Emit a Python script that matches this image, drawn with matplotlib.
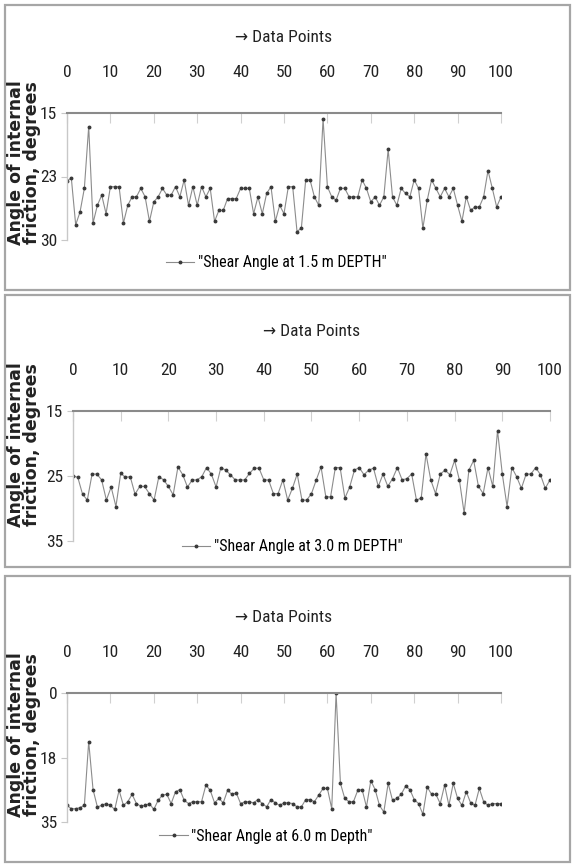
import numpy as np
import matplotlib.pyplot as plt
from matplotlib.patches import Rectangle
from matplotlib.ticker import FuncFormatter

# data (data point index 0..100)
points = np.arange(0, 101)

shear_15 = [23.0, 22.7, 28.2, 26.7, 23.9, 16.6, 28.0, 25.9, 24.7, 26.9,
            23.7, 23.7, 23.7, 28.0, 25.9, 24.9, 24.9, 23.9, 24.9, 27.8,
            25.5, 24.9, 23.9, 24.7, 24.7, 23.7, 24.9, 22.9, 25.9, 23.7,
            25.9, 23.7, 24.9, 23.9, 27.8, 26.5, 26.5, 25.1, 25.1, 25.1,
            23.9, 23.9, 23.9, 26.9, 24.9, 26.9, 24.5, 23.7, 27.8, 25.9,
            26.9, 23.7, 23.7, 29.0, 28.6, 22.9, 22.9, 24.9, 25.9, 15.7,
            23.7, 24.9, 25.3, 23.9, 23.9, 24.9, 24.9, 24.9, 22.9, 23.9,
            25.5, 24.9, 25.9, 24.9, 19.3, 24.9, 25.9, 23.9, 24.5, 24.9,
            22.9, 23.9, 28.6, 25.3, 22.9, 23.9, 24.9, 23.9, 24.9, 23.9,
            25.9, 27.8, 24.9, 26.5, 26.1, 26.1, 24.9, 21.8, 23.9, 26.1,
            24.9]

shear_30 = [25.0, 25.2, 27.8, 28.7, 24.7, 24.7, 25.6, 28.7, 26.7, 29.7,
            24.6, 25.2, 25.1, 27.8, 26.6, 26.6, 27.7, 28.7, 25.1, 25.6,
            26.6, 27.9, 23.6, 24.8, 26.7, 25.6, 25.6, 25.1, 23.7, 24.7,
            26.7, 23.7, 24.1, 24.8, 25.6, 25.6, 25.6, 24.6, 23.8, 23.8,
            25.6, 25.6, 27.7, 27.7, 25.6, 28.7, 26.9, 24.7, 28.7, 28.7,
            27.7, 25.6, 23.6, 28.2, 28.2, 23.7, 23.7, 28.4, 26.7, 24.1,
            23.7, 24.8, 24.1, 23.8, 26.6, 24.7, 26.6, 25.4, 23.7, 25.6,
            25.4, 24.7, 28.7, 28.4, 21.6, 25.6, 27.7, 24.7, 24.1, 24.8,
            22.6, 25.6, 30.7, 24.1, 22.6, 26.6, 27.7, 23.7, 26.6, 18.0,
            24.7, 29.7, 23.7, 25.1, 26.9, 24.7, 24.7, 23.7, 24.8, 26.9,
            25.6]

shear_60 = [30.5, 31.4, 31.4, 31.1, 30.5, 13.2, 26.2, 30.9, 30.5, 30.0,
            30.5, 31.6, 26.4, 30.5, 29.5, 27.5, 30.0, 30.7, 30.5, 30.0,
            31.6, 29.1, 27.7, 27.5, 30.0, 26.8, 26.2, 29.1, 30.0, 29.5,
            29.5, 29.5, 25.0, 26.4, 29.8, 28.6, 29.8, 26.4, 27.5, 27.1,
            30.0, 29.5, 29.5, 29.8, 28.9, 30.0, 30.9, 28.9, 29.8, 30.5,
            29.8, 29.8, 30.0, 30.9, 30.9, 28.9, 28.9, 29.5, 27.7, 25.9,
            25.9, 31.4, 0.0, 24.5, 28.6, 29.5, 29.5, 26.4, 26.2, 30.9,
            23.8, 26.2, 30.5, 32.3, 24.5, 29.1, 28.6, 27.5, 25.3, 26.2,
            28.9, 30.0, 32.9, 25.5, 27.5, 27.5, 30.0, 25.0, 30.5, 24.5,
            28.6, 30.5, 26.8, 29.8, 30.5, 25.9, 29.5, 30.5, 30.0, 30.0,
            30.0]

series_names = ['"Shear Angle at 1.5 m DEPTH"',
                '"Shear Angle at 3.0 m DEPTH"',
                '"Shear Angle at 6.0 m Depth"']
y_limits = [(15, 30), (15, 35), (0, 35)]
y_ticks = [[15, 22.5, 30], [15, 25, 35], [0, 17.5, 35]]
x_ticks = list(range(0, 101, 10))

W, H = 574, 866
# narrow face like the squeezed Excel labels, first installed one wins
narrow = ['Roboto Condensed', 'DejaVu Sans Condensed', 'Liberation Sans Narrow',
          'Roboto', 'DejaVu Sans']

fig = plt.figure(figsize=(W / 100, H / 100), dpi=100)
fig.patch.set_facecolor('white')

# pixel layouts: panel frame, plot area, title / legend / y label rows
frames = [(5, 5, 570, 290), (5, 295, 570, 567), (5, 576, 570, 862)]
plot_areas = [(67, 113, 501, 240), (73, 411, 550, 541), (67, 693, 501, 822)]
title_y = [37, 331, 617]
legend_xy = [(276, 263), (292, 547), (266, 836)]
ylabel_y = [163, 445, 735]

def fx(px):
    return px / W

def fy(py):
    return 1 - py / H

for k, values in enumerate([shear_15, shear_30, shear_60]):
    x0, y0, x1, y1 = frames[k]
    fig.patches.append(Rectangle((fx(x0), fy(y1)), fx(x1 - x0), (y1 - y0) / H,
                                 transform=fig.transFigure, fill=False,
                                 edgecolor='#a6a6a6', linewidth=1.6))

    l, t, r, b = plot_areas[k]
    ax = fig.add_axes([fx(l), fy(b), fx(r - l), (b - t) / H])
    line, = ax.plot(points, values, '-', color='#8c8c8c', linewidth=0.8,
                    marker='o', markersize=1.8, markerfacecolor='#3a3a3a',
                    markeredgecolor='#3a3a3a')

    ax.set_xlim(0, 100)
    ax.set_ylim(y_limits[k][1], y_limits[k][0])
    ax.set_xticks(x_ticks)
    ax.set_yticks(y_ticks[k])
    ax.yaxis.set_major_formatter(FuncFormatter(lambda v, p: f"{int(v + 0.5)}"))
    ax.xaxis.tick_top()
    ax.tick_params(axis='x', direction='in', length=7, color='#d0d0d0',
                   labelsize=12.5, pad=24)
    ax.tick_params(axis='y', direction='out', length=4, color='#c8c8c8',
                   labelsize=12.5, pad=3)
    for lab in ax.get_xticklabels() + ax.get_yticklabels():
        lab.set_family(narrow)
        lab.set_stretch('condensed')
        lab.set_color('#222222')
    ax.spines['bottom'].set_visible(False)
    ax.spines['right'].set_visible(False)
    ax.spines['top'].set_color('#8a8a8a')
    ax.spines['top'].set_linewidth(1.5)
    ax.spines['left'].set_color('#c8c8c8')
    ax.spines['left'].set_linewidth(1.0)
    ax.set_facecolor('white')

    fig.text(fx((l + r) / 2), fy(title_y[k]), '\u2192 Data Points',
             ha='center', va='center', fontsize=12.5, family=narrow,
             stretch='condensed', color='#222222')

    lx, ly = legend_xy[k]
    fig.legend([line], [series_names[k]], loc='center',
               bbox_to_anchor=(fx(lx), fy(ly)), frameon=False,
               prop={'family': narrow, 'size': 11.5, 'stretch': 'condensed'},
               handlelength=1.8, handletextpad=0.2, borderaxespad=0)

    fig.text(fx(24), fy(ylabel_y[k]), 'Angle of internal\nfriction, degrees',
             rotation=90, ha='center', va='center', fontsize=12.5,
             fontweight='bold', family='DejaVu Sans',
             color='#222222', linespacing=0.85)

fig.savefig('out.png', dpi=100)
